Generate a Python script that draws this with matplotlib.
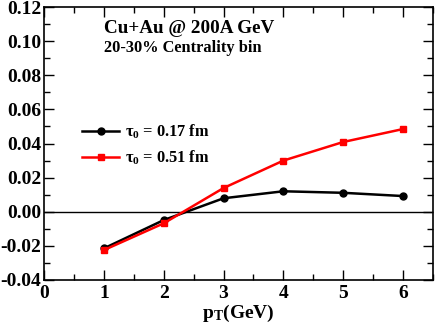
import matplotlib.pyplot as plt
from matplotlib.ticker import MultipleLocator

pt = [1, 2, 3, 4, 5, 6]
tau_017 = [-0.0215, -0.0049, 0.0079, 0.0120, 0.0111, 0.0092]
tau_051 = [-0.0225, -0.0068, 0.0139, 0.0300, 0.0409, 0.0485]

plt.rcParams['font.family'] = 'Liberation Serif'
plt.rcParams['font.weight'] = 'bold'
plt.rcParams['mathtext.fontset'] = 'custom'
plt.rcParams['mathtext.rm'] = 'Liberation Serif:bold'
plt.rcParams['mathtext.it'] = 'Liberation Serif:bold'
plt.rcParams['mathtext.bf'] = 'Liberation Serif:bold'

fig = plt.figure(figsize=(4.36, 3.24), dpi=100)
ax = fig.add_axes([0.101, 0.136, 0.892, 0.842])

ax.axhline(0, color='black', lw=1.0)
ax.plot(pt, tau_017, color='black', lw=1.8, marker='o', ms=5, label=r'$\tau_0$ = 0.17 fm')
ax.plot(pt, tau_051, color='red', lw=1.8, marker='s', ms=4.5, label=r'$\tau_0$ = 0.51 fm')

ax.set_xlim(0, 6.5)
ax.set_ylim(-0.04, 0.12)
ax.xaxis.set_major_locator(MultipleLocator(1))
ax.xaxis.set_minor_locator(MultipleLocator(0.5))
ax.yaxis.set_major_locator(MultipleLocator(0.02))
ax.yaxis.set_minor_locator(MultipleLocator(0.01))
ax.yaxis.set_major_formatter(plt.FormatStrFormatter('%.2f'))
ax.tick_params(which='both', direction='in', top=True, right=True, labelsize=14, width=1)
ax.tick_params(which='major', length=7)
ax.tick_params(which='minor', length=4)
ax.tick_params(axis='y', pad=2)
for s in ax.spines.values():
    s.set_linewidth(1.2)

ax.set_xlabel(r'$\mathbf{p}_\mathbf{T}$(GeV)', fontsize=14, fontweight='bold', labelpad=1)

ax.text(0.155, 0.92, 'Cu+Au @ 200A GeV', transform=ax.transAxes, fontsize=13.8, va='center')
ax.text(0.155, 0.85, '20-30% Centrality bin', transform=ax.transAxes, fontsize=11.8, va='center')

ax.legend(loc='upper left', bbox_to_anchor=(0.08, 0.6), frameon=False, fontsize=11.8,
          handlelength=2.3, handletextpad=0.35, labelspacing=0.45, borderaxespad=0)

fig.savefig('out.png', dpi=100)
